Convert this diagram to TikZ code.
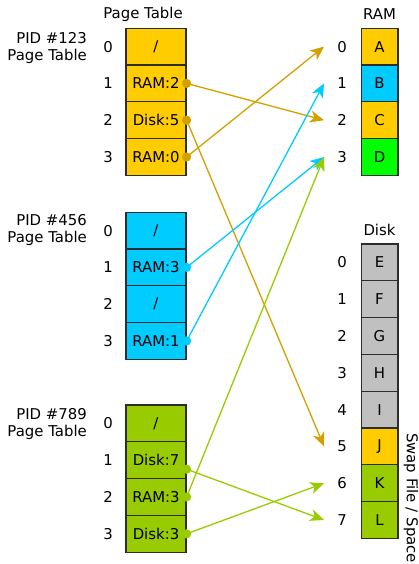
\documentclass[tikz,border=0pt]{standalone}
\usepackage{fontspec}
\setmainfont{DejaVu Sans}
\usetikzlibrary{arrows.meta, positioning, calc}
\definecolor{CY}{RGB}{255,204,0}
\definecolor{CYd}{RGB}{212,160,0}
\definecolor{CB}{RGB}{0,204,255}
\definecolor{CG}{RGB}{153,204,0}
\definecolor{CL}{RGB}{0,255,0}
\definecolor{CS}{RGB}{192,192,192}
\definecolor{DG}{RGB}{45,45,45}
\tikzset{
  txt/.style={font=\fontsize{14.9}{17}\selectfont, text=black},
  cell/.style={txt, draw=DG, line width=1.2pt, minimum width=60pt,
    minimum height=36.8pt, inner sep=0pt},
  slot/.style={cell, minimum width=36.8pt},
  idx/.style={txt, inner sep=0pt},
  pid/.style={txt, align=right, inner sep=0pt, anchor=east},
  ptr/.style={-{Stealth[length=14pt,width=12pt,inset=4pt]}, line width=1.3pt},
}

\begin{document}
\begin{tikzpicture}[x=1pt, y=-1pt]
\useasboundingbox (0,0) rectangle (419,564);

% headers
\node[txt] (hpt)   at (143,14)  {Page Table};
\node[txt] (hram)  at (379.5,14)  {RAM};
\node[txt] (hdisk) at (379.5,230) {Disk};

\node[pid] (pid1) at (87,48)  {PID \#123\\Page Table};
\node[pid] (pid2) at (87,230) {PID \#456\\Page Table};
\node[pid] (pid3) at (87,424) {PID \#789\\Page Table};

% page tables
\node[cell, fill=CY] (a0) at (156,46.6)  {/};
\node[cell, fill=CY] (a1) at (156,83.4)  {RAM:2};
\node[cell, fill=CY] (a2) at (156,120.2) {Disk:5};
\node[cell, fill=CY] (a3) at (156,157)   {RAM:0};

\node[cell, fill=CB] (b0) at (156,230.6) {/};
\node[cell, fill=CB] (b1) at (156,267.4) {RAM:3};
\node[cell, fill=CB] (b2) at (156,304.2) {/};
\node[cell, fill=CB] (b3) at (156,341)   {RAM:1};

\node[cell, fill=CG] (c0) at (156,423.4) {/};
\node[cell, fill=CG] (c1) at (156,460.2) {Disk:7};
\node[cell, fill=CG] (c2) at (156,497)   {RAM:3};
\node[cell, fill=CG] (c3) at (156,533.8) {Disk:3};

\foreach \i/\y in {0/46.6, 1/83.4, 2/120.2, 3/157} {
  \node[idx] (ai\i) at (108,\y) {\i};
  \node[idx] (bi\i) at (108,\y+184) {\i};
  \node[idx] (ci\i) at (108,\y+376.8) {\i};
}

% RAM
\node[slot, fill=CY] (r0) at (379.5,46.6)  {A};
\node[slot, fill=CB] (r1) at (379.5,83.4)  {B};
\node[slot, fill=CY] (r2) at (379.5,120.2) {C};
\node[slot, fill=CL] (r3) at (379.5,157)   {D};
\foreach \i/\y in {0/46.6, 1/83.4, 2/120.2, 3/157}
  \node[idx] (ri\i) at (342,\y) {\i};

% disk
\node[slot, fill=CS] (d0) at (379.5,262.4) {E};
\node[slot, fill=CS] (d1) at (379.5,299.2) {F};
\node[slot, fill=CS] (d2) at (379.5,336)   {G};
\node[slot, fill=CS] (d3) at (379.5,372.8) {H};
\node[slot, fill=CS] (d4) at (379.5,409.6) {I};
\node[slot, fill=CY] (d5) at (379.5,446.4) {J};
\node[slot, fill=CG] (d6) at (379.5,483.2) {K};
\node[slot, fill=CG] (d7) at (379.5,520)   {L};
\foreach \i in {0,...,7}
  \node[idx] (di\i) at (342,262.4+36.8*\i) {\i};

\node[txt, rotate=-90, anchor=west, inner sep=0pt] (swap) at (411,433) {Swap File / Space};

% pointers
\draw[ptr, CYd] (a1.east) -- ([xshift=-13pt]ri2.west);
\draw[ptr, CYd] (a2.east) -- ([xshift=-13pt]di5.west);
\draw[ptr, CYd] (a3.east) -- ([xshift=-13pt]ri0.west);
\draw[ptr, CB] (b1.east) -- ([xshift=-13pt]ri3.west);
\draw[ptr, CB] (b3.east) -- ([xshift=-13pt]ri1.west);
\draw[ptr, CG] ([yshift=-9pt]c1.east) -- ([xshift=-13pt]di7.west);
\draw[ptr, CG] (c2.east) -- ([xshift=-13pt]ri3.west);
\draw[ptr, CG] (c3.east) -- ([xshift=-13pt]di6.west);

\foreach \p in {a1,a2,a3} \fill[CYd] (\p.east) circle (4.6pt);
\foreach \p in {b1,b3} \fill[CB] (\p.east) circle (4.6pt);
\foreach \p in {c2,c3} \fill[CG] (\p.east) circle (4.6pt);
\fill[CG] ([yshift=-9pt]c1.east) circle (4.6pt);
\end{tikzpicture}
\end{document}
